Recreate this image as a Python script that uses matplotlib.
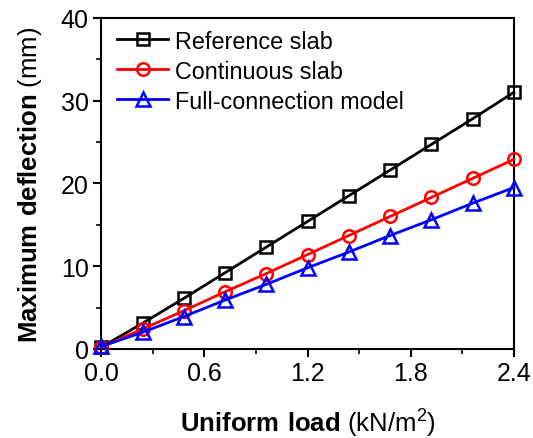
import matplotlib
matplotlib.use("Agg")
import matplotlib.pyplot as plt
from matplotlib.ticker import MultipleLocator

plt.rcParams['font.family'] = ['Liberation Sans', 'DejaVu Sans']
plt.rcParams['mathtext.fontset'] = 'custom'
plt.rcParams['mathtext.rm'] = 'Liberation Sans'
plt.rcParams['mathtext.bf'] = 'Liberation Sans:bold'

load = [0.0, 0.24, 0.48, 0.72, 0.96, 1.2, 1.44, 1.68, 1.92, 2.16, 2.4]
reference_slab = [0.2, 3.1, 6.1, 9.2, 12.3, 15.4, 18.5, 21.6, 24.7, 27.8, 31.0]
continuous_slab = [0.2, 2.4, 4.6, 6.9, 9.1, 11.4, 13.7, 16.0, 18.3, 20.6, 22.9]
full_connection = [0.3, 2.0, 3.9, 5.9, 7.8, 9.8, 11.7, 13.7, 15.6, 17.6, 19.5]

fig = plt.figure(figsize=(5.33, 4.39), dpi=100)
ax = fig.add_axes([0.19, 0.203, 0.774, 0.754])

ax.plot(load, reference_slab, color='black', lw=2, marker='s', ms=8,
        mfc='none', mew=1.8, label='Reference slab', clip_on=False, zorder=3)
ax.plot(load, continuous_slab, color='red', lw=2, marker='o', ms=9,
        mfc='none', mew=1.8, label='Continuous slab', clip_on=False, zorder=3)
ax.plot(load, full_connection, color='blue', lw=2, marker='^', ms=9.5,
        mfc='none', mew=1.8, label='Full-connection model', clip_on=False, zorder=3)

ax.set_xlim(0, 2.4)
ax.set_ylim(0, 40)
ax.xaxis.set_major_locator(MultipleLocator(0.6))
ax.xaxis.set_minor_locator(MultipleLocator(0.3))
ax.yaxis.set_major_locator(MultipleLocator(10))
ax.yaxis.set_minor_locator(MultipleLocator(5))
ax.set_xticklabels([f"{v:.1f}" for v in ax.get_xticks()])
ax.tick_params(which='major', direction='out', length=6, width=1.5, labelsize=18, pad=3)
ax.tick_params(which='minor', direction='out', length=3.5, width=1.2)
for s in ax.spines.values():
    s.set_linewidth(1.5)

ax.set_xlabel(r"$\bf{Uniform\ load}$ (kN/m$^{2}$)", fontsize=18.5, labelpad=14)
ax.set_ylabel(r"$\bf{Maximum\ deflection}$ (mm)", fontsize=18.5, labelpad=12)

ax.legend(loc='upper left', frameon=False, fontsize=16.8, handlelength=2.2,
          handletextpad=0.3, labelspacing=0.3, borderaxespad=0.1,
          bbox_to_anchor=(0.01, 1.0))

fig.savefig("out.png", dpi=100)
